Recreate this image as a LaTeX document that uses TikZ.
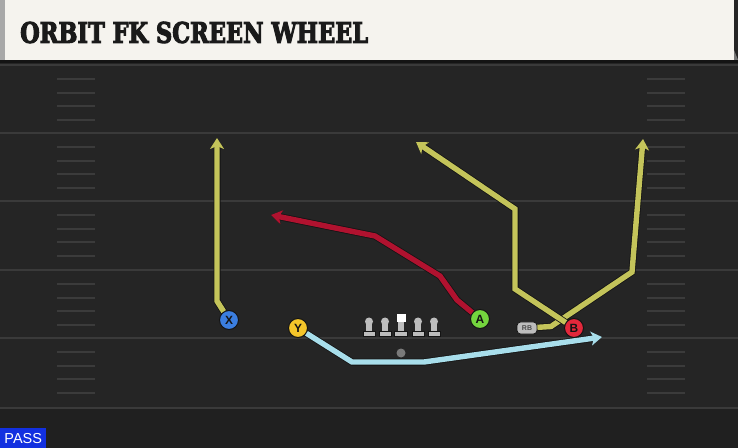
\documentclass[tikz,border=0pt]{standalone}
\usepackage{fontspec}
\usepackage{graphicx}
\setmainfont{Liberation Sans}
\newfontfamily\titlefont{DejaVu Serif}[FakeBold=4]
\usetikzlibrary{arrows.meta}
\definecolor{field}{HTML}{252525}
\definecolor{fieldlow}{HTML}{202020}
\definecolor{yardc}{HTML}{3A3A3A}
\definecolor{hashc}{HTML}{3B3B3B}
\definecolor{bannerc}{HTML}{F5F3EE}
\definecolor{stripec}{HTML}{A8A8A8}
\definecolor{titlec}{HTML}{1A1A1A}
\definecolor{olive}{HTML}{C4C45A}
\definecolor{routered}{HTML}{B0122F}
\definecolor{routeblue}{HTML}{A8DEEB}
\definecolor{pX}{HTML}{3B7EE0}
\definecolor{pY}{HTML}{F4C52A}
\definecolor{pA}{HTML}{74D53E}
\definecolor{pB}{HTML}{E2283B}
\definecolor{olgray}{HTML}{BDBDBD}
\definecolor{ballc}{HTML}{7A7A7A}
\definecolor{passblue}{HTML}{1230E0}
\definecolor{outl}{HTML}{141414}
\begin{document}
\begin{tikzpicture}[x=1bp,y=-1bp,
  player/.style={circle,draw=outl,line width=1bp,minimum size=19bp,inner sep=0pt,
    font=\bfseries\fontsize{12}{12}\selectfont,text=outl},
  route/.style={line width=5.4bp,line join=miter,
    -{Stealth[length=11bp,width=14bp,inset=3bp]},
    preaction={draw=outl,line width=7bp}},
  yardline/.style={draw=yardc,line width=2.5bp},
  hashline/.style={draw=hashc,line width=2bp},
  olman/.pic={
    \fill[olgray] (-2.6,0) rectangle (2.6,10);
    \fill[olgray,draw=outl,line width=0.4bp] (-6,9.5) rectangle (6,14.5);
    \fill[olgray] (0,0) circle[radius=4bp];
  },
  center/.pic={
    \fill[olgray] (-2.6,0) rectangle (2.6,10);
    \fill[olgray,draw=outl,line width=0.4bp] (-6.5,9.5) rectangle (6.5,14.5);
    \fill[white] (-4.5,-7) rectangle (4.5,1);
  }
]
\useasboundingbox (0,0) rectangle (738,448);
% field
\fill[field] (0,0) rectangle (738,448);
\fill[fieldlow] (0,408) rectangle (738,448);
% yard lines
\foreach \yy in {65,133,201,270,338,408}
  \draw[yardline] (0,\yy) -- (738,\yy);
% hashes
\foreach \yy in {65,133,201,270,338}
  \foreach \oo in {14,28,41,55}{
    \draw[hashline] (57,\yy+\oo) -- (95,\yy+\oo);
    \draw[hashline] (647,\yy+\oo) -- (685,\yy+\oo);
  }
% banner
\fill[outl] (0,59) rectangle (738,63);
\fill[bannerc] (0,0) rectangle (734,60);
\fill[stripec] (0,0) rectangle (5,60);
\fill[stripec!70!black] (734,50) -- (738,60) -- (734,60) -- cycle;
\node[anchor=west,inner sep=0pt,text=titlec] (title) at (20,32.5)
  {\resizebox{348bp}{21bp}{\titlefont\bfseries ORBIT FK SCREEN WHEEL}};
% PASS label
\node[fill=passblue,text=white,minimum width=46bp,minimum height=20bp,inner sep=0pt,
  font=\fontsize{14.5}{14.5}\selectfont,anchor=north west] (pass) at (0,428) {PASS};
% line
\pic at (369,321.5) {olman};
\pic at (385,321.5) {olman};
\pic at (401,321.5) {center};
\pic at (418,321.5) {olman};
\pic at (434,321.5) {olman};
\node[circle,fill=ballc,minimum size=9bp,inner sep=0pt] (ball) at (401,353) {};
% players
\node[player,fill=pX] (X) at (229,320) {X};
\node[player,fill=pY] (Y) at (298,328) {Y};
\node[player,fill=pA] (A) at (480,319) {A};
\node[player,fill=pB] (B) at (574,328) {B};
\node[draw=outl,fill=olgray,line width=0.8bp,rounded corners=3.5bp,minimum width=20bp,
  minimum height=12bp,inner sep=0pt,font=\bfseries\fontsize{7}{7}\selectfont,text=black!70]
  (RB) at (527,328) {RB};
% route end points
\coordinate (xe) at (217,138);
\coordinate (ye) at (602,337);
\coordinate (ae) at (271,215);
\coordinate (be) at (416,142);
\coordinate (re) at (643,139);
% routes
\draw[route,draw=olive] (X) -- (217,301) -- (xe);
\draw[route,draw=routeblue] (Y) -- (352,362) -- (424,362) -- (ye);
\draw[route,draw=routered] (A) -- (457,300) -- (440,276) -- (375,236) -- (ae);
\draw[route,draw=olive] (RB) -- (551,326.5) -- (632,272) -- (re);
\draw[route,draw=olive] (B) -- (515,289) -- (515,209) -- (be);
\end{tikzpicture}
\end{document}
